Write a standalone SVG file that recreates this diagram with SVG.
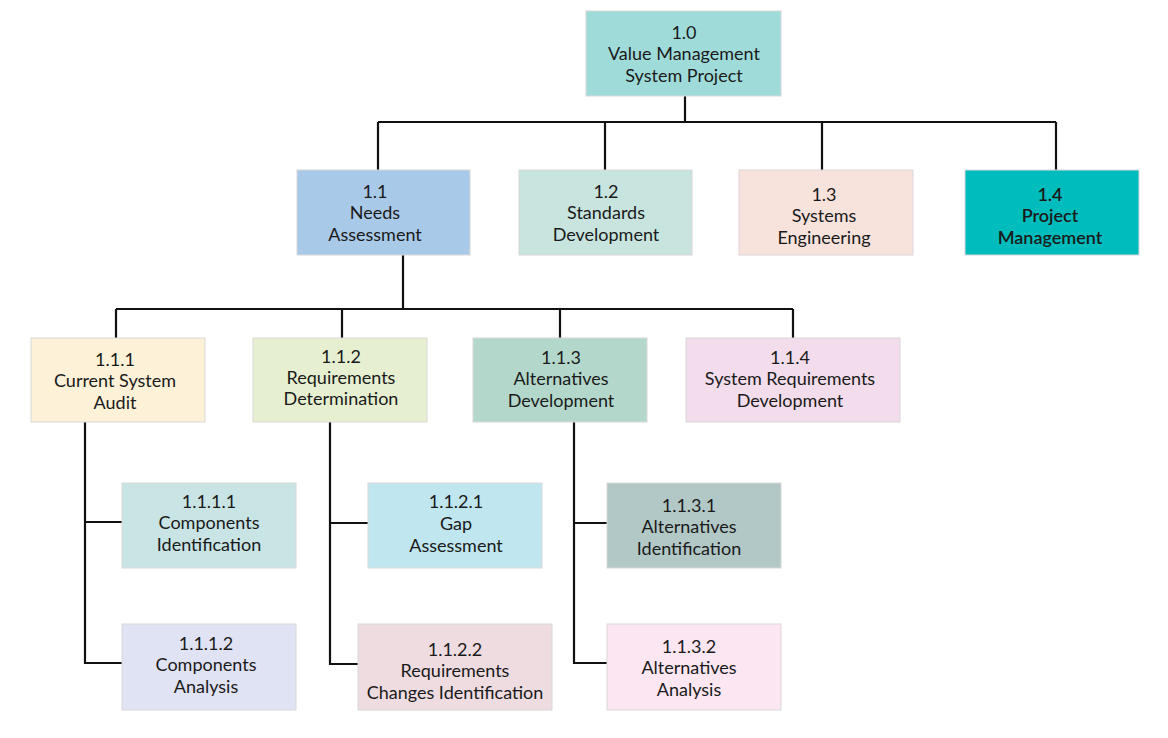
<svg xmlns="http://www.w3.org/2000/svg" width="1168" height="738" viewBox="0 0 1168 738">
<style>
rect.n{stroke:#d8d8d8;stroke-width:1}
text{font-family:Lato,"Open Sans","Liberation Sans",sans-serif;font-size:18px;fill:#1a1a1a;text-anchor:middle}
.c{fill:none;stroke:#111;stroke-width:2.2}
</style>
<rect width="1168" height="738" fill="#fff"/>
<g id="connectors">
<path class="c" d="M685 96V122M378 122H1056M378 122V170M605 122V170M822 122V170M1056 122V170"/>
<path class="c" d="M403 255V309M116 309H793M116 309V338M342 309V338M560 309V338M793 309V338"/>
<path class="c" d="M85 422V663H122M85 522H122"/>
<path class="c" d="M330 422V664H358M330 523H368"/>
<path class="c" d="M574 422V663H607M574 523H607"/>
</g>
<g id="n1_0"><rect class="n" x="586" y="11" width="195" height="85" fill="#9fdcd9"/><text x="684" y="39">1.0</text><text x="684" y="60">Value Management</text><text x="684" y="82">System Project</text></g>
<g id="n1_1"><rect class="n" x="297" y="170" width="173" height="85" fill="#a9c9e8"/><text x="375" y="198">1.1</text><text x="375" y="219">Needs</text><text x="375" y="241">Assessment</text></g>
<g id="n1_2"><rect class="n" x="519" y="170" width="173" height="85" fill="#c8e4de"/><text x="606" y="198">1.2</text><text x="606" y="219">Standards</text><text x="606" y="241">Development</text></g>
<g id="n1_3"><rect class="n" x="739" y="170" width="174" height="85" fill="#f8e2dc"/><text x="824" y="201">1.3</text><text x="824" y="222">Systems</text><text x="824" y="244">Engineering</text></g>
<g id="n1_4"><rect class="n" x="965" y="170" width="174" height="85" fill="#00bcbc"/><text x="1050" y="201" style="font-weight:600">1.4</text><text x="1050" y="222" style="font-weight:600">Project</text><text x="1050" y="244" style="font-weight:600">Management</text></g>
<g id="n1_1_1"><rect class="n" x="31" y="338" width="174" height="84" fill="#fdf2d8"/><text x="115" y="366">1.1.1</text><text x="115" y="387">Current System</text><text x="115" y="409">Audit</text></g>
<g id="n1_1_2"><rect class="n" x="253" y="338" width="174" height="84" fill="#e6f0d0"/><text x="341" y="363">1.1.2</text><text x="341" y="384">Requirements</text><text x="341" y="405">Determination</text></g>
<g id="n1_1_3"><rect class="n" x="473" y="338" width="174" height="84" fill="#b3d8cb"/><text x="561" y="364">1.1.3</text><text x="561" y="385">Alternatives</text><text x="561" y="407">Development</text></g>
<g id="n1_1_4"><rect class="n" x="686" y="338" width="214" height="84" fill="#f3dcec"/><text x="790" y="364">1.1.4</text><text x="790" y="385">System Requirements</text><text x="790" y="407">Development</text></g>
<g id="n1_1_1_1"><rect class="n" x="122" y="483" width="174" height="85" fill="#c8e4e4"/><text x="209" y="508">1.1.1.1</text><text x="209" y="529">Components</text><text x="209" y="551">Identification</text></g>
<g id="n1_1_1_2"><rect class="n" x="122" y="624" width="174" height="86" fill="#e0e3f3"/><text x="206" y="650">1.1.1.2</text><text x="206" y="671">Components</text><text x="206" y="693">Analysis</text></g>
<g id="n1_1_2_1"><rect class="n" x="368" y="483" width="174" height="85" fill="#c0e6ef"/><text x="456" y="508">1.1.2.1</text><text x="456" y="530">Gap</text><text x="456" y="552">Assessment</text></g>
<g id="n1_1_2_2"><rect class="n" x="358" y="624" width="194" height="86" fill="#eedce1"/><text x="455" y="656">1.1.2.2</text><text x="455" y="677">Requirements</text><text x="455" y="699">Changes Identification</text></g>
<g id="n1_1_3_1"><rect class="n" x="607" y="483" width="174" height="85" fill="#b2c8c6"/><text x="689" y="512">1.1.3.1</text><text x="689" y="533">Alternatives</text><text x="689" y="555">Identification</text></g>
<g id="n1_1_3_2"><rect class="n" x="607" y="624" width="174" height="86" fill="#fbe6f1"/><text x="689" y="653">1.1.3.2</text><text x="689" y="674">Alternatives</text><text x="689" y="696">Analysis</text></g>
</svg>
